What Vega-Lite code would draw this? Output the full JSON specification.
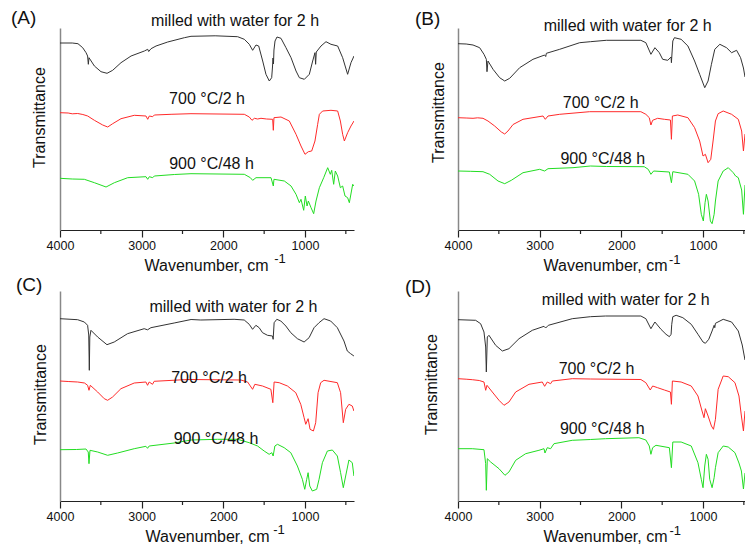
{
"$schema": "https://vega.github.io/schema/vega-lite/v6.json",
"background": "white",
"padding": {"left": 10, "top": 8, "right": 0, "bottom": 0},
"columns": 2,
"bounds": "flush",
"spacing": {"row": 61, "column": 104},
"resolve": {"scale": {"x": "independent", "y": "independent"}},
"config": {"view": {"stroke": null}, "font": "Liberation Sans", "axis": {"grid": false}},
"datasets": {
"A": [
{"wn":4000,"t":187,"s":"milled"},{"wn":3850,"t":187,"s":"milled"},{"wn":3780,"t":186.3,"s":"milled"},{"wn":3722,"t":182.3,"s":"milled"},{"wn":3681,"t":177.3,"s":"milled"},{"wn":3662,"t":174,"s":"milled"},{"wn":3653,"t":165.7,"s":"milled"},{"wn":3645,"t":172.3,"s":"milled"},{"wn":3579,"t":164,"s":"milled"},{"wn":3498,"t":158.3,"s":"milled"},{"wn":3424,"t":156.7,"s":"milled"},{"wn":3355,"t":159.7,"s":"milled"},{"wn":3253,"t":167.3,"s":"milled"},{"wn":3130,"t":174,"s":"milled"},{"wn":2967,"t":179,"s":"milled"},{"wn":2926,"t":180.7,"s":"milled"},{"wn":2914,"t":178.5,"s":"milled"},{"wn":2885,"t":181.3,"s":"milled"},{"wn":2824,"t":184,"s":"milled"},{"wn":2681,"t":188,"s":"milled"},{"wn":2477,"t":192.3,"s":"milled"},{"wn":2396,"t":193.7,"s":"milled"},{"wn":2100,"t":194.2,"s":"milled"},{"wn":1825,"t":193.3,"s":"milled"},{"wn":1743,"t":190.7,"s":"milled"},{"wn":1682,"t":185.7,"s":"milled"},{"wn":1641,"t":179.7,"s":"milled"},{"wn":1600,"t":185,"s":"milled"},{"wn":1567,"t":184,"s":"milled"},{"wn":1518,"t":169,"s":"milled"},{"wn":1478,"t":155.7,"s":"milled"},{"wn":1437,"t":149,"s":"milled"},{"wn":1408,"t":152.3,"s":"milled"},{"wn":1398,"t":163,"s":"milled"},{"wn":1392,"t":172,"s":"milled"},{"wn":1386,"t":166,"s":"milled"},{"wn":1380,"t":180,"s":"milled"},{"wn":1367,"t":189,"s":"milled"},{"wn":1343,"t":193,"s":"milled"},{"wn":1294,"t":191.7,"s":"milled"},{"wn":1233,"t":182.3,"s":"milled"},{"wn":1171,"t":172.3,"s":"milled"},{"wn":1110,"t":159,"s":"milled"},{"wn":1069,"t":152.3,"s":"milled"},{"wn":1008,"t":150.7,"s":"milled"},{"wn":947,"t":155.7,"s":"milled"},{"wn":906,"t":169,"s":"milled"},{"wn":878,"t":177.3,"s":"milled"},{"wn":870,"t":165.7,"s":"milled"},{"wn":862,"t":178,"s":"milled"},{"wn":804,"t":184,"s":"milled"},{"wn":743,"t":188.3,"s":"milled"},{"wn":682,"t":185.7,"s":"milled"},{"wn":600,"t":184,"s":"milled"},{"wn":539,"t":172.3,"s":"milled"},{"wn":478,"t":155.7,"s":"milled"},{"wn":437,"t":167.3,"s":"milled"},{"wn":400,"t":174,"s":"milled"},
{"wn":4000,"t":117.3,"s":"700"},{"wn":3900,"t":117,"s":"700"},{"wn":3850,"t":116.2,"s":"700"},{"wn":3783,"t":116.5,"s":"700"},{"wn":3720,"t":115.5,"s":"700"},{"wn":3661,"t":114,"s":"700"},{"wn":3579,"t":109.7,"s":"700"},{"wn":3477,"t":105,"s":"700"},{"wn":3416,"t":103,"s":"700"},{"wn":3355,"t":106.3,"s":"700"},{"wn":3253,"t":111.3,"s":"700"},{"wn":3090,"t":114.7,"s":"700"},{"wn":2947,"t":114,"s":"700"},{"wn":2926,"t":110.7,"s":"700"},{"wn":2906,"t":114,"s":"700"},{"wn":2865,"t":113.3,"s":"700"},{"wn":2845,"t":115,"s":"700"},{"wn":2640,"t":115.7,"s":"700"},{"wn":2396,"t":116.3,"s":"700"},{"wn":1743,"t":115.7,"s":"700"},{"wn":1682,"t":113,"s":"700"},{"wn":1649,"t":109.7,"s":"700"},{"wn":1620,"t":111.7,"s":"700"},{"wn":1580,"t":111,"s":"700"},{"wn":1539,"t":111.7,"s":"700"},{"wn":1470,"t":111,"s":"700"},{"wn":1396,"t":110.7,"s":"700"},{"wn":1388,"t":99.7,"s":"700"},{"wn":1380,"t":112.3,"s":"700"},{"wn":1294,"t":113,"s":"700"},{"wn":1192,"t":109,"s":"700"},{"wn":1110,"t":95.7,"s":"700"},{"wn":1049,"t":84,"s":"700"},{"wn":1000,"t":75.7,"s":"700"},{"wn":959,"t":78.3,"s":"700"},{"wn":918,"t":79,"s":"700"},{"wn":878,"t":89,"s":"700"},{"wn":845,"t":105.7,"s":"700"},{"wn":824,"t":115.7,"s":"700"},{"wn":784,"t":119,"s":"700"},{"wn":682,"t":119.7,"s":"700"},{"wn":600,"t":119,"s":"700"},{"wn":567,"t":109,"s":"700"},{"wn":539,"t":95.7,"s":"700"},{"wn":518,"t":89,"s":"700"},{"wn":478,"t":97.3,"s":"700"},{"wn":437,"t":104,"s":"700"},{"wn":400,"t":109,"s":"700"},
{"wn":4000,"t":51.7,"s":"900"},{"wn":3850,"t":51,"s":"900"},{"wn":3702,"t":50.7,"s":"900"},{"wn":3579,"t":47.3,"s":"900"},{"wn":3436,"t":43,"s":"900"},{"wn":3334,"t":47.3,"s":"900"},{"wn":3171,"t":52.3,"s":"900"},{"wn":2947,"t":53.3,"s":"900"},{"wn":2926,"t":50.7,"s":"900"},{"wn":2906,"t":53.3,"s":"900"},{"wn":2865,"t":52.3,"s":"900"},{"wn":2845,"t":54,"s":"900"},{"wn":2600,"t":55.5,"s":"900"},{"wn":2396,"t":56.3,"s":"900"},{"wn":1743,"t":55.7,"s":"900"},{"wn":1669,"t":52.3,"s":"900"},{"wn":1641,"t":49.7,"s":"900"},{"wn":1600,"t":52.3,"s":"900"},{"wn":1416,"t":52.3,"s":"900"},{"wn":1388,"t":44,"s":"900"},{"wn":1380,"t":50.7,"s":"900"},{"wn":1253,"t":49,"s":"900"},{"wn":1171,"t":44,"s":"900"},{"wn":1110,"t":35.7,"s":"900"},{"wn":1069,"t":27.3,"s":"900"},{"wn":1049,"t":30.7,"s":"900"},{"wn":1016,"t":19.7,"s":"900"},{"wn":996,"t":34,"s":"900"},{"wn":975,"t":24,"s":"900"},{"wn":959,"t":29,"s":"900"},{"wn":926,"t":22.3,"s":"900"},{"wn":894,"t":16.3,"s":"900"},{"wn":865,"t":29,"s":"900"},{"wn":824,"t":42.3,"s":"900"},{"wn":771,"t":52.3,"s":"900"},{"wn":722,"t":62.3,"s":"900"},{"wn":690,"t":55.7,"s":"900"},{"wn":673,"t":59.7,"s":"900"},{"wn":649,"t":45.7,"s":"900"},{"wn":629,"t":59,"s":"900"},{"wn":600,"t":54,"s":"900"},{"wn":567,"t":42.3,"s":"900"},{"wn":539,"t":44,"s":"900"},{"wn":510,"t":34,"s":"900"},{"wn":478,"t":32.3,"s":"900"},{"wn":457,"t":27.3,"s":"900"},{"wn":416,"t":45.7,"s":"900"},{"wn":400,"t":44,"s":"900"}
],
"B": [
{"wn":4000,"t":186.3,"s":"milled"},{"wn":3900,"t":186,"s":"milled"},{"wn":3816,"t":185,"s":"milled"},{"wn":3735,"t":182.3,"s":"milled"},{"wn":3682,"t":175.7,"s":"milled"},{"wn":3653,"t":170.7,"s":"milled"},{"wn":3645,"t":158.3,"s":"milled"},{"wn":3633,"t":169,"s":"milled"},{"wn":3571,"t":160.7,"s":"milled"},{"wn":3490,"t":152.3,"s":"milled"},{"wn":3428,"t":149,"s":"milled"},{"wn":3367,"t":151.7,"s":"milled"},{"wn":3245,"t":162.3,"s":"milled"},{"wn":3082,"t":170.7,"s":"milled"},{"wn":2939,"t":175,"s":"milled"},{"wn":2926,"t":173.5,"s":"milled"},{"wn":2918,"t":176.7,"s":"milled"},{"wn":2755,"t":180.7,"s":"milled"},{"wn":2510,"t":187.3,"s":"milled"},{"wn":2379,"t":188.3,"s":"milled"},{"wn":2184,"t":189.7,"s":"milled"},{"wn":1761,"t":189.7,"s":"milled"},{"wn":1700,"t":187.3,"s":"milled"},{"wn":1638,"t":175.7,"s":"milled"},{"wn":1589,"t":182.3,"s":"milled"},{"wn":1535,"t":177.3,"s":"milled"},{"wn":1494,"t":170.7,"s":"milled"},{"wn":1432,"t":169.7,"s":"milled"},{"wn":1391,"t":173,"s":"milled"},{"wn":1387,"t":167.3,"s":"milled"},{"wn":1370,"t":189,"s":"milled"},{"wn":1350,"t":192.3,"s":"milled"},{"wn":1268,"t":190.7,"s":"milled"},{"wn":1185,"t":184,"s":"milled"},{"wn":1103,"t":169,"s":"milled"},{"wn":1041,"t":155.7,"s":"milled"},{"wn":979,"t":142.3,"s":"milled"},{"wn":938,"t":149,"s":"milled"},{"wn":897,"t":165.7,"s":"milled"},{"wn":856,"t":180.7,"s":"milled"},{"wn":794,"t":185.7,"s":"milled"},{"wn":712,"t":182.3,"s":"milled"},{"wn":650,"t":177.3,"s":"milled"},{"wn":589,"t":179.7,"s":"milled"},{"wn":540,"t":172.3,"s":"milled"},{"wn":505,"t":162,"s":"milled"},{"wn":486,"t":153,"s":"milled"},
{"wn":4000,"t":112.3,"s":"700"},{"wn":3900,"t":112,"s":"700"},{"wn":3816,"t":111.7,"s":"700"},{"wn":3760,"t":112.2,"s":"700"},{"wn":3694,"t":111.7,"s":"700"},{"wn":3633,"t":109,"s":"700"},{"wn":3551,"t":104,"s":"700"},{"wn":3469,"t":98,"s":"700"},{"wn":3428,"t":96,"s":"700"},{"wn":3388,"t":99,"s":"700"},{"wn":3326,"t":105.5,"s":"700"},{"wn":3204,"t":110.7,"s":"700"},{"wn":2959,"t":114,"s":"700"},{"wn":2931,"t":110.7,"s":"700"},{"wn":2898,"t":114,"s":"700"},{"wn":2755,"t":115.7,"s":"700"},{"wn":2388,"t":118.3,"s":"700"},{"wn":1761,"t":118.3,"s":"700"},{"wn":1700,"t":115.7,"s":"700"},{"wn":1658,"t":112.3,"s":"700"},{"wn":1638,"t":105,"s":"700"},{"wn":1617,"t":109.7,"s":"700"},{"wn":1556,"t":111.7,"s":"700"},{"wn":1473,"t":110.7,"s":"700"},{"wn":1399,"t":110,"s":"700"},{"wn":1387,"t":90.7,"s":"700"},{"wn":1375,"t":114,"s":"700"},{"wn":1309,"t":115,"s":"700"},{"wn":1185,"t":112.3,"s":"700"},{"wn":1103,"t":102.3,"s":"700"},{"wn":1041,"t":89,"s":"700"},{"wn":1000,"t":74,"s":"700"},{"wn":971,"t":75.7,"s":"700"},{"wn":938,"t":67.3,"s":"700"},{"wn":905,"t":70.7,"s":"700"},{"wn":877,"t":89,"s":"700"},{"wn":848,"t":109,"s":"700"},{"wn":815,"t":116.3,"s":"700"},{"wn":753,"t":119,"s":"700"},{"wn":650,"t":115.7,"s":"700"},{"wn":568,"t":110.7,"s":"700"},{"wn":527,"t":99,"s":"700"},{"wn":505,"t":79,"s":"700"},{"wn":486,"t":96,"s":"700"},
{"wn":4000,"t":59,"s":"900"},{"wn":3850,"t":58.7,"s":"900"},{"wn":3694,"t":58.3,"s":"900"},{"wn":3612,"t":55.7,"s":"900"},{"wn":3510,"t":49,"s":"900"},{"wn":3428,"t":46.3,"s":"900"},{"wn":3347,"t":49.7,"s":"900"},{"wn":3204,"t":57.3,"s":"900"},{"wn":3000,"t":60.7,"s":"900"},{"wn":2939,"t":59,"s":"900"},{"wn":2898,"t":61.3,"s":"900"},{"wn":2592,"t":62.3,"s":"900"},{"wn":2379,"t":64,"s":"900"},{"wn":2184,"t":63.5,"s":"900"},{"wn":1720,"t":63.3,"s":"900"},{"wn":1671,"t":60.7,"s":"900"},{"wn":1638,"t":55.7,"s":"900"},{"wn":1605,"t":59,"s":"900"},{"wn":1412,"t":58,"s":"900"},{"wn":1387,"t":47.3,"s":"900"},{"wn":1370,"t":58.3,"s":"900"},{"wn":1185,"t":55.7,"s":"900"},{"wn":1103,"t":49,"s":"900"},{"wn":1054,"t":35.7,"s":"900"},{"wn":1021,"t":15.7,"s":"900"},{"wn":996,"t":9,"s":"900"},{"wn":975,"t":27.3,"s":"900"},{"wn":959,"t":35.7,"s":"900"},{"wn":938,"t":29,"s":"900"},{"wn":910,"t":9,"s":"900"},{"wn":889,"t":6.3,"s":"900"},{"wn":864,"t":15.7,"s":"900"},{"wn":848,"t":29,"s":"900"},{"wn":815,"t":49,"s":"900"},{"wn":753,"t":59,"s":"900"},{"wn":691,"t":62.3,"s":"900"},{"wn":630,"t":57.3,"s":"900"},{"wn":601,"t":54,"s":"900"},{"wn":568,"t":52.3,"s":"900"},{"wn":527,"t":40,"s":"900"},{"wn":505,"t":15.7,"s":"900"},{"wn":486,"t":45,"s":"900"}
],
"C": [
{"wn":4000,"t":182.3,"s":"milled"},{"wn":3784,"t":181.3,"s":"milled"},{"wn":3702,"t":179,"s":"milled"},{"wn":3662,"t":175.7,"s":"milled"},{"wn":3648,"t":166,"s":"milled"},{"wn":3641,"t":130.7,"s":"milled"},{"wn":3635,"t":164,"s":"milled"},{"wn":3621,"t":170.7,"s":"milled"},{"wn":3539,"t":164,"s":"milled"},{"wn":3425,"t":156.3,"s":"milled"},{"wn":3336,"t":159,"s":"milled"},{"wn":3173,"t":167.3,"s":"milled"},{"wn":2969,"t":172.3,"s":"milled"},{"wn":2928,"t":171.2,"s":"milled"},{"wn":2887,"t":173.3,"s":"milled"},{"wn":2602,"t":178,"s":"milled"},{"wn":2395,"t":181.5,"s":"milled"},{"wn":2276,"t":181,"s":"milled"},{"wn":1868,"t":181.7,"s":"milled"},{"wn":1744,"t":181,"s":"milled"},{"wn":1683,"t":176.7,"s":"milled"},{"wn":1642,"t":171.7,"s":"milled"},{"wn":1601,"t":175.7,"s":"milled"},{"wn":1561,"t":173.3,"s":"milled"},{"wn":1520,"t":168.3,"s":"milled"},{"wn":1459,"t":165.7,"s":"milled"},{"wn":1398,"t":165,"s":"milled"},{"wn":1390,"t":161.7,"s":"milled"},{"wn":1378,"t":178.3,"s":"milled"},{"wn":1345,"t":181.7,"s":"milled"},{"wn":1296,"t":180,"s":"milled"},{"wn":1235,"t":175,"s":"milled"},{"wn":1174,"t":168.3,"s":"milled"},{"wn":1093,"t":162.3,"s":"milled"},{"wn":1011,"t":159,"s":"milled"},{"wn":950,"t":163.3,"s":"milled"},{"wn":889,"t":173.3,"s":"milled"},{"wn":828,"t":178.3,"s":"milled"},{"wn":767,"t":182.3,"s":"milled"},{"wn":686,"t":180,"s":"milled"},{"wn":604,"t":173.3,"s":"milled"},{"wn":523,"t":160,"s":"milled"},{"wn":482,"t":150,"s":"milled"},{"wn":441,"t":147.3,"s":"milled"},{"wn":401,"t":145,"s":"milled"},
{"wn":4000,"t":120,"s":"700"},{"wn":3900,"t":119.5,"s":"700"},{"wn":3784,"t":119,"s":"700"},{"wn":3700,"t":118,"s":"700"},{"wn":3662,"t":115.7,"s":"700"},{"wn":3645,"t":110.7,"s":"700"},{"wn":3629,"t":115.7,"s":"700"},{"wn":3539,"t":109,"s":"700"},{"wn":3458,"t":102.3,"s":"700"},{"wn":3417,"t":100.7,"s":"700"},{"wn":3356,"t":104,"s":"700"},{"wn":3254,"t":112.3,"s":"700"},{"wn":3091,"t":118,"s":"700"},{"wn":2948,"t":119,"s":"700"},{"wn":2928,"t":115.7,"s":"700"},{"wn":2908,"t":119,"s":"700"},{"wn":2867,"t":116.7,"s":"700"},{"wn":2847,"t":119.7,"s":"700"},{"wn":2480,"t":121.3,"s":"700"},{"wn":2395,"t":121.5,"s":"700"},{"wn":1785,"t":121,"s":"700"},{"wn":1703,"t":119,"s":"700"},{"wn":1642,"t":111.7,"s":"700"},{"wn":1614,"t":116.7,"s":"700"},{"wn":1520,"t":115,"s":"700"},{"wn":1418,"t":111.7,"s":"700"},{"wn":1394,"t":98.3,"s":"700"},{"wn":1378,"t":119,"s":"700"},{"wn":1316,"t":118.3,"s":"700"},{"wn":1215,"t":115,"s":"700"},{"wn":1113,"t":108.3,"s":"700"},{"wn":1052,"t":96.7,"s":"700"},{"wn":1011,"t":83.3,"s":"700"},{"wn":991,"t":76.7,"s":"700"},{"wn":962,"t":82.3,"s":"700"},{"wn":938,"t":71.7,"s":"700"},{"wn":897,"t":70,"s":"700"},{"wn":869,"t":78.3,"s":"700"},{"wn":840,"t":108.3,"s":"700"},{"wn":808,"t":118.3,"s":"700"},{"wn":767,"t":120.7,"s":"700"},{"wn":604,"t":118.3,"s":"700"},{"wn":564,"t":108.3,"s":"700"},{"wn":531,"t":78.3,"s":"700"},{"wn":502,"t":91.7,"s":"700"},{"wn":462,"t":96.7,"s":"700"},{"wn":421,"t":95,"s":"700"},{"wn":401,"t":90,"s":"700"},
{"wn":4000,"t":51.3,"s":"900"},{"wn":3800,"t":51.5,"s":"900"},{"wn":3682,"t":52,"s":"900"},{"wn":3654,"t":49,"s":"900"},{"wn":3645,"t":37.3,"s":"900"},{"wn":3633,"t":50.7,"s":"900"},{"wn":3539,"t":49,"s":"900"},{"wn":3417,"t":45.7,"s":"900"},{"wn":3295,"t":48,"s":"900"},{"wn":3091,"t":52.3,"s":"900"},{"wn":2948,"t":54.7,"s":"900"},{"wn":2928,"t":52.7,"s":"900"},{"wn":2908,"t":55,"s":"900"},{"wn":2602,"t":58,"s":"900"},{"wn":2395,"t":61,"s":"900"},{"wn":2072,"t":61.7,"s":"900"},{"wn":1825,"t":61.7,"s":"900"},{"wn":1683,"t":58.3,"s":"900"},{"wn":1581,"t":55,"s":"900"},{"wn":1500,"t":50,"s":"900"},{"wn":1439,"t":46.7,"s":"900"},{"wn":1406,"t":48.3,"s":"900"},{"wn":1390,"t":45,"s":"900"},{"wn":1369,"t":55,"s":"900"},{"wn":1337,"t":56.7,"s":"900"},{"wn":1255,"t":53.3,"s":"900"},{"wn":1174,"t":48.3,"s":"900"},{"wn":1093,"t":35,"s":"900"},{"wn":1032,"t":21.7,"s":"900"},{"wn":1003,"t":11.7,"s":"900"},{"wn":979,"t":21.7,"s":"900"},{"wn":962,"t":28.3,"s":"900"},{"wn":942,"t":15,"s":"900"},{"wn":910,"t":10,"s":"900"},{"wn":857,"t":11.7,"s":"900"},{"wn":828,"t":21.7,"s":"900"},{"wn":787,"t":38.3,"s":"900"},{"wn":726,"t":50,"s":"900"},{"wn":665,"t":51,"s":"900"},{"wn":604,"t":45,"s":"900"},{"wn":564,"t":28.3,"s":"900"},{"wn":531,"t":13.3,"s":"900"},{"wn":502,"t":25,"s":"900"},{"wn":462,"t":41,"s":"900"},{"wn":421,"t":38.3,"s":"900"},{"wn":401,"t":25,"s":"900"}
],
"D": [
{"wn":4000,"t":181.3,"s":"milled"},{"wn":3784,"t":180.7,"s":"milled"},{"wn":3723,"t":177.3,"s":"milled"},{"wn":3682,"t":169,"s":"milled"},{"wn":3661,"t":154,"s":"milled"},{"wn":3653,"t":129,"s":"milled"},{"wn":3641,"t":164,"s":"milled"},{"wn":3621,"t":165.7,"s":"milled"},{"wn":3539,"t":155.7,"s":"milled"},{"wn":3457,"t":150,"s":"milled"},{"wn":3376,"t":152.3,"s":"milled"},{"wn":3253,"t":162.3,"s":"milled"},{"wn":3090,"t":170.7,"s":"milled"},{"wn":2947,"t":174.7,"s":"milled"},{"wn":2927,"t":173,"s":"milled"},{"wn":2894,"t":175.7,"s":"milled"},{"wn":2601,"t":182.3,"s":"milled"},{"wn":2379,"t":184.3,"s":"milled"},{"wn":2193,"t":185,"s":"milled"},{"wn":1761,"t":185,"s":"milled"},{"wn":1700,"t":182.3,"s":"milled"},{"wn":1638,"t":172.3,"s":"milled"},{"wn":1589,"t":179,"s":"milled"},{"wn":1515,"t":171.7,"s":"milled"},{"wn":1453,"t":166.7,"s":"milled"},{"wn":1412,"t":164.3,"s":"milled"},{"wn":1391,"t":166.7,"s":"milled"},{"wn":1383,"t":176.7,"s":"milled"},{"wn":1370,"t":184.3,"s":"milled"},{"wn":1329,"t":185.7,"s":"milled"},{"wn":1247,"t":183.3,"s":"milled"},{"wn":1144,"t":176.7,"s":"milled"},{"wn":1062,"t":166.7,"s":"milled"},{"wn":1000,"t":159,"s":"milled"},{"wn":971,"t":157.7,"s":"milled"},{"wn":930,"t":161.7,"s":"milled"},{"wn":889,"t":170,"s":"milled"},{"wn":864,"t":175.7,"s":"milled"},{"wn":856,"t":173.3,"s":"milled"},{"wn":848,"t":177.7,"s":"milled"},{"wn":753,"t":181.7,"s":"milled"},{"wn":650,"t":179,"s":"milled"},{"wn":568,"t":170,"s":"milled"},{"wn":520,"t":156,"s":"milled"},{"wn":486,"t":141,"s":"milled"},
{"wn":4000,"t":122.3,"s":"700"},{"wn":3900,"t":121.8,"s":"700"},{"wn":3825,"t":121.3,"s":"700"},{"wn":3740,"t":120.5,"s":"700"},{"wn":3682,"t":119,"s":"700"},{"wn":3661,"t":110.7,"s":"700"},{"wn":3645,"t":115.7,"s":"700"},{"wn":3580,"t":109,"s":"700"},{"wn":3498,"t":100.7,"s":"700"},{"wn":3437,"t":95.7,"s":"700"},{"wn":3376,"t":99,"s":"700"},{"wn":3294,"t":109,"s":"700"},{"wn":3131,"t":116.7,"s":"700"},{"wn":2968,"t":119,"s":"700"},{"wn":2939,"t":114.7,"s":"700"},{"wn":2907,"t":119,"s":"700"},{"wn":2866,"t":117.3,"s":"700"},{"wn":2845,"t":120,"s":"700"},{"wn":2601,"t":122.3,"s":"700"},{"wn":2379,"t":122,"s":"700"},{"wn":1761,"t":121.5,"s":"700"},{"wn":1700,"t":118.3,"s":"700"},{"wn":1646,"t":111,"s":"700"},{"wn":1617,"t":115,"s":"700"},{"wn":1556,"t":113.3,"s":"700"},{"wn":1473,"t":111,"s":"700"},{"wn":1399,"t":109,"s":"700"},{"wn":1387,"t":96.7,"s":"700"},{"wn":1375,"t":120,"s":"700"},{"wn":1268,"t":119,"s":"700"},{"wn":1144,"t":115,"s":"700"},{"wn":1062,"t":105,"s":"700"},{"wn":1012,"t":90,"s":"700"},{"wn":988,"t":83.3,"s":"700"},{"wn":971,"t":92.3,"s":"700"},{"wn":938,"t":85,"s":"700"},{"wn":897,"t":75,"s":"700"},{"wn":872,"t":71.7,"s":"700"},{"wn":848,"t":81.7,"s":"700"},{"wn":815,"t":111.7,"s":"700"},{"wn":753,"t":125,"s":"700"},{"wn":691,"t":124.3,"s":"700"},{"wn":609,"t":118.3,"s":"700"},{"wn":560,"t":105,"s":"700"},{"wn":530,"t":85,"s":"700"},{"wn":505,"t":70,"s":"700"},{"wn":486,"t":90,"s":"700"},
{"wn":4000,"t":52.3,"s":"900"},{"wn":3825,"t":52.3,"s":"900"},{"wn":3682,"t":51.3,"s":"900"},{"wn":3661,"t":37.3,"s":"900"},{"wn":3653,"t":10.7,"s":"900"},{"wn":3641,"t":42.3,"s":"900"},{"wn":3600,"t":39,"s":"900"},{"wn":3498,"t":32.3,"s":"900"},{"wn":3425,"t":25.7,"s":"900"},{"wn":3376,"t":29,"s":"900"},{"wn":3294,"t":40.7,"s":"900"},{"wn":3172,"t":47.3,"s":"900"},{"wn":3009,"t":50.7,"s":"900"},{"wn":2947,"t":52.3,"s":"900"},{"wn":2935,"t":48,"s":"900"},{"wn":2907,"t":53.3,"s":"900"},{"wn":2866,"t":52.3,"s":"900"},{"wn":2825,"t":57.3,"s":"900"},{"wn":2601,"t":60.7,"s":"900"},{"wn":2379,"t":61.5,"s":"900"},{"wn":2193,"t":62.3,"s":"900"},{"wn":1785,"t":63.3,"s":"900"},{"wn":1700,"t":61,"s":"900"},{"wn":1658,"t":55,"s":"900"},{"wn":1638,"t":46.7,"s":"900"},{"wn":1617,"t":53.3,"s":"900"},{"wn":1576,"t":55.7,"s":"900"},{"wn":1412,"t":53.3,"s":"900"},{"wn":1387,"t":33.3,"s":"900"},{"wn":1370,"t":59,"s":"900"},{"wn":1268,"t":59,"s":"900"},{"wn":1144,"t":55,"s":"900"},{"wn":1062,"t":38.3,"s":"900"},{"wn":1021,"t":21.7,"s":"900"},{"wn":1000,"t":13.3,"s":"900"},{"wn":979,"t":35,"s":"900"},{"wn":959,"t":46.7,"s":"900"},{"wn":938,"t":41.7,"s":"900"},{"wn":918,"t":21.7,"s":"900"},{"wn":889,"t":13.3,"s":"900"},{"wn":864,"t":23.3,"s":"900"},{"wn":848,"t":33.3,"s":"900"},{"wn":815,"t":48.3,"s":"900"},{"wn":753,"t":55,"s":"900"},{"wn":691,"t":54,"s":"900"},{"wn":609,"t":48.3,"s":"900"},{"wn":560,"t":38,"s":"900"},{"wn":530,"t":30,"s":"900"},{"wn":505,"t":12,"s":"900"},{"wn":486,"t":28,"s":"900"}
],
"Alab": [{"wn":1857,"t":204,"label":"milled with water for 2 h"},{"wn":2200,"t":126.3,"label":"700 °C/2 h"},{"wn":2145,"t":60.7,"label":"900 °C/48 h"}],
"Blab": [{"wn":1922,"t":199,"label":"milled with water for 2 h"},{"wn":2253,"t":121.7,"label":"700 °C/2 h"},{"wn":2228,"t":65.7,"label":"900 °C/48 h"}],
"Clab": [{"wn":1876,"t":189,"label":"milled with water for 2 h"},{"wn":2175,"t":118,"label":"700 °C/2 h"},{"wn":2090,"t":57.3,"label":"900 °C/48 h"}],
"Dlab": [{"wn":1947,"t":195.7,"label":"milled with water for 2 h"},{"wn":2303,"t":127.3,"label":"700 °C/2 h"},{"wn":2233,"t":67.3,"label":"900 °C/48 h"}],
"minor": [{"wn":3500},{"wn":2500},{"wn":1500},{"wn":500}]
},
"concat": [
{
"width": 294, "height": 202,
"layer": [
{"data": {"name": "A"}, "mark": {"type": "line", "strokeWidth": 1, "clip": true},
"encoding": {
"x": {"field": "wn", "type": "quantitative", "scale": {"domain": [4000, 400], "nice": false, "zero": false},
"axis": {"values": [4000, 3000, 2000, 1000], "format": "d", "tickSize": 7, "tickWidth": 1.2, "tickColor": "#222", "domainColor": "#222", "domainWidth": 1.2, "labelFontSize": 12.5, "labelColor": "#111", "labelPadding": 2, "labelFlush": false, "labelOverlap": false, "title": "Wavenumber, cm", "titleFontSize": 16, "titleFontWeight": "normal", "titleColor": "#111", "titleX": 146, "titleY": 40, "titleBaseline": "alphabetic", "titleAlign": "center"}},
"y": {"field": "t", "type": "quantitative", "scale": {"domain": [0, 202], "nice": false, "zero": false},
"axis": {"title": "Transmittance", "ticks": false, "labels": false, "domainColor": "#888", "domainWidth": 1.5, "titleFontSize": 16, "titleFontWeight": "normal", "titleColor": "#111", "titleAngle": 270, "titleX": -16, "titleY": 89, "titleBaseline": "alphabetic", "titleAlign": "center"}},
"color": {"field": "s", "type": "nominal", "scale": {"domain": ["milled", "700", "900"], "range": ["#333333", "#ff2a2a", "#22dd22"]}, "legend": null}
}},
{"data": {"name": "Alab"}, "mark": {"type": "text", "align": "center", "baseline": "alphabetic", "fontSize": 16, "font": "Liberation Sans", "color": "#111"},
"encoding": {"x": {"field": "wn", "type": "quantitative"}, "y": {"field": "t", "type": "quantitative"}, "text": {"field": "label"}}},
{"data": {"values": [{"wn": 4600, "t": 206, "label": "(A)"}]}, "mark": {"type": "text", "align": "left", "baseline": "alphabetic", "fontSize": 19, "font": "Liberation Sans", "color": "#111"},
"encoding": {"x": {"field": "wn", "type": "quantitative"}, "y": {"field": "t", "type": "quantitative"}, "text": {"field": "label"}}},
{"data": {"values": [{"wn": 1306, "t": -33, "label": "-1"}]}, "mark": {"type": "text", "align": "center", "baseline": "alphabetic", "fontSize": 13, "font": "Liberation Sans", "color": "#111"},
"encoding": {"x": {"field": "wn", "type": "quantitative"}, "y": {"field": "t", "type": "quantitative"}, "text": {"field": "label"}}},
{"data": {"name": "minor"}, "mark": {"type": "rule", "color": "#222", "strokeWidth": 1.2},
"encoding": {"x": {"field": "wn", "type": "quantitative"}, "y": {"datum": 0, "type": "quantitative"}, "y2": {"datum": -4}}}
]
},
{
"width": 287, "height": 202,
"layer": [
{"data": {"name": "B"}, "mark": {"type": "line", "strokeWidth": 1, "clip": true},
"encoding": {
"x": {"field": "wn", "type": "quantitative", "scale": {"domain": [4000, 486], "nice": false, "zero": false},
"axis": {"values": [4000, 3000, 2000, 1000], "format": "d", "tickSize": 7, "tickWidth": 1.2, "tickColor": "#222", "domainColor": "#222", "domainWidth": 1.2, "labelFontSize": 12.5, "labelColor": "#111", "labelPadding": 2, "labelFlush": false, "labelOverlap": false, "title": "Wavenumber, cm", "titleFontSize": 16, "titleFontWeight": "normal", "titleColor": "#111", "titleX": 147, "titleY": 40, "titleBaseline": "alphabetic", "titleAlign": "center"}},
"y": {"field": "t", "type": "quantitative", "scale": {"domain": [0, 202], "nice": false, "zero": false},
"axis": {"title": "Transmittance", "ticks": false, "labels": false, "domainColor": "#888", "domainWidth": 1.5, "titleFontSize": 16, "titleFontWeight": "normal", "titleColor": "#111", "titleAngle": 270, "titleX": -15, "titleY": 84, "titleBaseline": "alphabetic", "titleAlign": "center"}},
"color": {"field": "s", "type": "nominal", "scale": {"domain": ["milled", "700", "900"], "range": ["#333333", "#ff2a2a", "#22dd22"]}, "legend": null}
}},
{"data": {"name": "Blab"}, "mark": {"type": "text", "align": "center", "baseline": "alphabetic", "fontSize": 16, "font": "Liberation Sans", "color": "#111"},
"encoding": {"x": {"field": "wn", "type": "quantitative"}, "y": {"field": "t", "type": "quantitative"}, "text": {"field": "label"}}},
{"data": {"values": [{"wn": 4527, "t": 205, "label": "(B)"}]}, "mark": {"type": "text", "align": "left", "baseline": "alphabetic", "fontSize": 19, "font": "Liberation Sans", "color": "#111"},
"encoding": {"x": {"field": "wn", "type": "quantitative"}, "y": {"field": "t", "type": "quantitative"}, "text": {"field": "label"}}},
{"data": {"values": [{"wn": 1347, "t": -33.5, "label": "-1"}]}, "mark": {"type": "text", "align": "center", "baseline": "alphabetic", "fontSize": 13, "font": "Liberation Sans", "color": "#111"},
"encoding": {"x": {"field": "wn", "type": "quantitative"}, "y": {"field": "t", "type": "quantitative"}, "text": {"field": "label"}}},
{"data": {"name": "minor"}, "mark": {"type": "rule", "color": "#222", "strokeWidth": 1.2},
"encoding": {"x": {"field": "wn", "type": "quantitative"}, "y": {"datum": 0, "type": "quantitative"}, "y2": {"datum": -4}}}
]
},
{
"width": 294, "height": 210,
"layer": [
{"data": {"name": "C"}, "mark": {"type": "line", "strokeWidth": 1, "clip": true},
"encoding": {
"x": {"field": "wn", "type": "quantitative", "scale": {"domain": [4000, 400], "nice": false, "zero": false},
"axis": {"values": [4000, 3000, 2000, 1000], "format": "d", "tickSize": 7, "tickWidth": 1.2, "tickColor": "#222", "domainColor": "#222", "domainWidth": 1.2, "labelFontSize": 12.5, "labelColor": "#111", "labelPadding": 2, "labelFlush": false, "labelOverlap": false, "title": "Wavenumber, cm", "titleFontSize": 16, "titleFontWeight": "normal", "titleColor": "#111", "titleX": 147, "titleY": 40, "titleBaseline": "alphabetic", "titleAlign": "center"}},
"y": {"field": "t", "type": "quantitative", "scale": {"domain": [0, 210], "nice": false, "zero": false},
"axis": {"title": "Transmittance", "ticks": false, "labels": false, "domainColor": "#888", "domainWidth": 1.5, "titleFontSize": 16, "titleFontWeight": "normal", "titleColor": "#111", "titleAngle": 270, "titleX": -15, "titleY": 103, "titleBaseline": "alphabetic", "titleAlign": "center"}},
"color": {"field": "s", "type": "nominal", "scale": {"domain": ["milled", "700", "900"], "range": ["#333333", "#ff2a2a", "#22dd22"]}, "legend": null}
}},
{"data": {"name": "Clab"}, "mark": {"type": "text", "align": "center", "baseline": "alphabetic", "fontSize": 16, "font": "Liberation Sans", "color": "#111"},
"encoding": {"x": {"field": "wn", "type": "quantitative"}, "y": {"field": "t", "type": "quantitative"}, "text": {"field": "label"}}},
{"data": {"values": [{"wn": 4539, "t": 210, "label": "(C)"}]}, "mark": {"type": "text", "align": "left", "baseline": "alphabetic", "fontSize": 19, "font": "Liberation Sans", "color": "#111"},
"encoding": {"x": {"field": "wn", "type": "quantitative"}, "y": {"field": "t", "type": "quantitative"}, "text": {"field": "label"}}},
{"data": {"values": [{"wn": 1318, "t": -33, "label": "-1"}]}, "mark": {"type": "text", "align": "center", "baseline": "alphabetic", "fontSize": 13, "font": "Liberation Sans", "color": "#111"},
"encoding": {"x": {"field": "wn", "type": "quantitative"}, "y": {"field": "t", "type": "quantitative"}, "text": {"field": "label"}}},
{"data": {"name": "minor"}, "mark": {"type": "rule", "color": "#222", "strokeWidth": 1.2},
"encoding": {"x": {"field": "wn", "type": "quantitative"}, "y": {"datum": 0, "type": "quantitative"}, "y2": {"datum": -4}}}
]
},
{
"width": 287, "height": 210,
"layer": [
{"data": {"name": "D"}, "mark": {"type": "line", "strokeWidth": 1, "clip": true},
"encoding": {
"x": {"field": "wn", "type": "quantitative", "scale": {"domain": [4000, 486], "nice": false, "zero": false},
"axis": {"values": [4000, 3000, 2000, 1000], "format": "d", "tickSize": 7, "tickWidth": 1.2, "tickColor": "#222", "domainColor": "#222", "domainWidth": 1.2, "labelFontSize": 12.5, "labelColor": "#111", "labelPadding": 2, "labelFlush": false, "labelOverlap": false, "title": "Wavenumber, cm", "titleFontSize": 16, "titleFontWeight": "normal", "titleColor": "#111", "titleX": 147, "titleY": 40, "titleBaseline": "alphabetic", "titleAlign": "center"}},
"y": {"field": "t", "type": "quantitative", "scale": {"domain": [0, 210], "nice": false, "zero": false},
"axis": {"title": "Transmittance", "ticks": false, "labels": false, "domainColor": "#888", "domainWidth": 1.5, "titleFontSize": 16, "titleFontWeight": "normal", "titleColor": "#111", "titleAngle": 270, "titleX": -22, "titleY": 93, "titleBaseline": "alphabetic", "titleAlign": "center"}},
"color": {"field": "s", "type": "nominal", "scale": {"domain": ["milled", "700", "900"], "range": ["#333333", "#ff2a2a", "#22dd22"]}, "legend": null}
}},
{"data": {"name": "Dlab"}, "mark": {"type": "text", "align": "center", "baseline": "alphabetic", "fontSize": 16, "font": "Liberation Sans", "color": "#111"},
"encoding": {"x": {"field": "wn", "type": "quantitative"}, "y": {"field": "t", "type": "quantitative"}, "text": {"field": "label"}}},
{"data": {"values": [{"wn": 4649, "t": 208, "label": "(D)"}]}, "mark": {"type": "text", "align": "left", "baseline": "alphabetic", "fontSize": 19, "font": "Liberation Sans", "color": "#111"},
"encoding": {"x": {"field": "wn", "type": "quantitative"}, "y": {"field": "t", "type": "quantitative"}, "text": {"field": "label"}}},
{"data": {"values": [{"wn": 1340, "t": -34, "label": "-1"}]}, "mark": {"type": "text", "align": "center", "baseline": "alphabetic", "fontSize": 13, "font": "Liberation Sans", "color": "#111"},
"encoding": {"x": {"field": "wn", "type": "quantitative"}, "y": {"field": "t", "type": "quantitative"}, "text": {"field": "label"}}},
{"data": {"name": "minor"}, "mark": {"type": "rule", "color": "#222", "strokeWidth": 1.2},
"encoding": {"x": {"field": "wn", "type": "quantitative"}, "y": {"datum": 0, "type": "quantitative"}, "y2": {"datum": -4}}}
]
}
]
}
